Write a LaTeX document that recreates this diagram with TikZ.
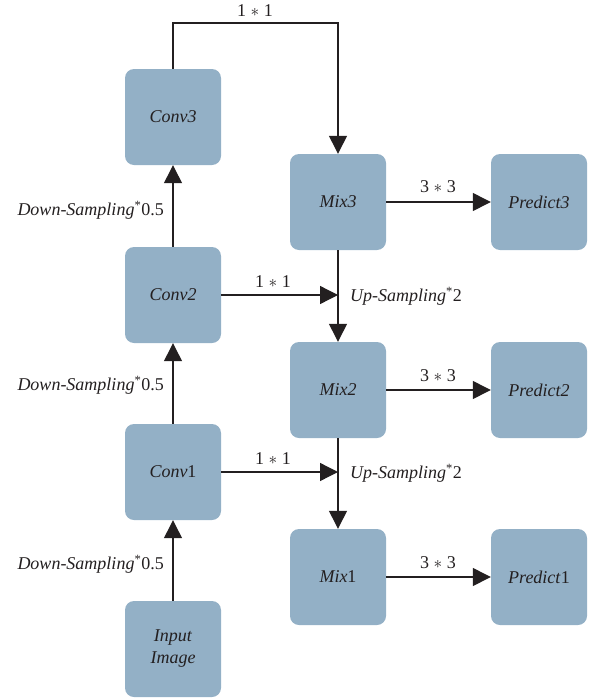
\documentclass[tikz,border=0pt]{standalone}
\usepackage{fontspec}
\setmainfont{Liberation Serif}
\usetikzlibrary{arrows.meta}
\definecolor{boxfill}{RGB}{147,176,198}
\definecolor{ink}{RGB}{35,31,32}
\tikzset{
  block/.style={draw=none, fill=boxfill, rounded corners=9pt, minimum width=96pt,
    minimum height=96pt, inner sep=0pt, align=center, text=ink, font=\fontsize{18}{22}\selectfont},
  link/.style={draw=ink, line width=1.3pt, -{Triangle[width=18pt,length=18pt]}},
  lbl/.style={text=ink, inner sep=0pt, font=\fontsize{18}{22}\selectfont}
}
\begin{document}
\begin{tikzpicture}[x=1pt,y=-1pt]
\useasboundingbox (0,0) rectangle (590,699);
% left column
\node[block] (conv3) at (173,117) {\textit{Conv3}};
\node[block] (conv2) at (173,295) {\textit{Conv2}};
\node[block] (conv1) at (173,472) {\textit{Conv}1};
\node[block] (input) at (173,649) {\textit{Input}\\\textit{Image}};
% middle column
\node[block] (mix3) at (338,202) {\textit{Mix3}};
\node[block] (mix2) at (338,390) {\textit{Mix2}};
\node[block] (mix1) at (338,577) {\textit{Mix}1};
% right column
\node[block] (pred3) at (539,202) {\textit{Predict3}};
\node[block] (pred2) at (539,390) {\textit{Predict2}};
\node[block] (pred1) at (539,577) {\textit{Predict}1};
% down-sampling path
\draw[link] (input) -- (conv1);
\draw[link] (conv1) -- (conv2);
\draw[link] (conv2) -- (conv3);
\node[lbl, anchor=east] (ds1) at (164,564) {\textit{Down-Sampling}\textsuperscript{*}0.5};
\node[lbl, anchor=east] (ds2) at (164,385) {\textit{Down-Sampling}\textsuperscript{*}0.5};
\node[lbl, anchor=east] (ds3) at (164,210) {\textit{Down-Sampling}\textsuperscript{*}0.5};
% top skip connection
\coordinate (topl) at (173,23);
\coordinate (topr) at (338,23);
\draw[link] (conv3.north) -- (topl) -- (topr) -- (mix3.north);
\node[lbl, anchor=base] (k0) at (255,16) {1 $*$ 1};
% up-sampling path
\draw[link] (mix3) -- (mix2);
\draw[link] (mix2) -- (mix1);
\node[lbl, anchor=west] (us2) at (350,296) {\textit{Up-Sampling}\textsuperscript{*}2};
\node[lbl, anchor=west] (us1) at (350,473) {\textit{Up-Sampling}\textsuperscript{*}2};
% lateral connections
\coordinate (j2) at (338,295);
\coordinate (j1) at (338,472);
\draw[link] (conv2.east |- j2) -- (j2);
\draw[link] (conv1.east |- j1) -- (j1);
\node[lbl] (k2) at (273,282) {1 $*$ 1};
\node[lbl] (k1) at (273,459) {1 $*$ 1};
% prediction heads
\draw[link] (mix3) -- (pred3);
\draw[link] (mix2) -- (pred2);
\draw[link] (mix1) -- (pred1);
\node[lbl] (h3) at (438,187) {3 $*$ 3};
\node[lbl] (h2) at (438,376) {3 $*$ 3};
\node[lbl] (h1) at (438,563) {3 $*$ 3};
\end{tikzpicture}
\end{document}
